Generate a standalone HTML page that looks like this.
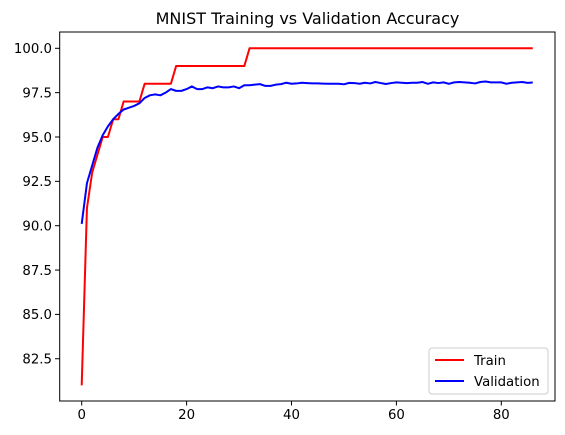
<!DOCTYPE html>
<html><head><meta charset="utf-8"><style>
html,body{margin:0;padding:0;background:#fff;}
svg{display:block;font-family:"DejaVu Sans","Liberation Sans",sans-serif;}
</style></head><body>
<svg id="chart" width="565" height="435" viewBox="0 0 565 435">
<text x="307.5" y="24" text-anchor="middle" font-size="16" fill="#000">MNIST Training vs Validation Accuracy</text>
<g id="axes"></g>
<g id="series"></g>
<rect x="59.7" y="32" width="495.3" height="369" fill="none" stroke="#000" stroke-width="1"/>
<g>
<rect x="429" y="348" width="119" height="46" rx="3" fill="#fff" fill-opacity="0.8" stroke="#ccc"/>
<line x1="435" y1="360" x2="464" y2="360" stroke="#f00" stroke-width="2"/>
<text x="474" y="365" font-size="13.3" fill="#000">Train</text>
<line x1="435" y1="381" x2="464" y2="381" stroke="#00f" stroke-width="2"/>
<text x="474" y="386" font-size="13.3" fill="#000">Validation</text>
</g>
</svg>
<script>
const trainAcc = [81,91,93,94,95,95,96,96,97,97,97,97,98,98,98,98,98,98,99,99,99,99,99,99,99,99,99,99,99,99,99,99,
100,100,100,100,100,100,100,100,100,100,100,100,100,100,100,100,100,100,100,100,100,100,100,100,100,100,100,100,100,100,100,100,100,100,100,100,100,100,100,100,100,100,100,100,100,100,100,100,100,100,100,100,100,100,100];
const valAcc = [90.1,92.4,93.4,94.4,95.1,95.6,96.0,96.3,96.55,96.65,96.75,96.9,97.2,97.35,97.4,97.35,97.5,97.7,97.6,97.6,97.7,97.85,97.7,97.7,97.8,97.75,97.85,97.8,97.8,97.85,97.75,97.92,97.92,97.95,97.98,97.88,97.88,97.95,97.98,98.06,98.0,98.02,98.06,98.04,98.02,98.02,98.01,98.0,98.0,98.0,97.97,98.05,98.04,98.0,98.06,98.02,98.1,98.04,97.99,98.04,98.08,98.06,98.04,98.06,98.06,98.1,98.0,98.08,98.04,98.08,98.0,98.08,98.1,98.08,98.06,98.02,98.1,98.13,98.08,98.08,98.08,98.0,98.06,98.08,98.1,98.05,98.07];
const xTicks = [0,20,40,60,80];
const yTicks = [82.5,85.0,87.5,90.0,92.5,95.0,97.5,100.0];

const NS = "http://www.w3.org/2000/svg";
function xs(v){ return 81.7 + v*5.245; }
function ys(v){ return 48.3 + (100 - v)*17.74; }
const axes = document.getElementById('axes');
const series = document.getElementById('series');
xTicks.forEach(t => {
  const l = document.createElementNS(NS,'line');
  l.setAttribute('x1',xs(t)); l.setAttribute('x2',xs(t));
  l.setAttribute('y1',401); l.setAttribute('y2',405.5);
  l.setAttribute('stroke','#000');
  
  
  axes.appendChild(l);
  const tx = document.createElementNS(NS,'text');
  tx.setAttribute('x',xs(t)); tx.setAttribute('y',419);
  tx.setAttribute('text-anchor','middle'); tx.setAttribute('font-size','13.3');
  tx.textContent = String(t);
  
  
  axes.appendChild(tx);
});
yTicks.forEach(t => {
  const l = document.createElementNS(NS,'line');
  l.setAttribute('x1',55); l.setAttribute('x2',59.7);
  l.setAttribute('y1',ys(t)); l.setAttribute('y2',ys(t));
  l.setAttribute('stroke','#000');
  
  
  axes.appendChild(l);
  const tx = document.createElementNS(NS,'text');
  tx.setAttribute('x',52); tx.setAttribute('y',ys(t)+4.8);
  tx.setAttribute('text-anchor','end'); tx.setAttribute('font-size','13.3');
  tx.textContent = t.toFixed(1);
  
  
  axes.appendChild(tx);
});
function addLine(arr,color,name){
  const p = document.createElementNS(NS,'polyline');
  p.setAttribute('points', arr.map((v,i)=>xs(i).toFixed(2)+','+ys(v).toFixed(2)).join(' '));
  p.setAttribute('fill','none'); p.setAttribute('stroke',color);
  p.setAttribute('stroke-width','2'); p.setAttribute('stroke-linejoin','round');
  
  
  series.appendChild(p);
}
addLine(trainAcc,'#f00','train-line');
addLine(valAcc,'#00f','validation-line');
</script>
</body></html>
